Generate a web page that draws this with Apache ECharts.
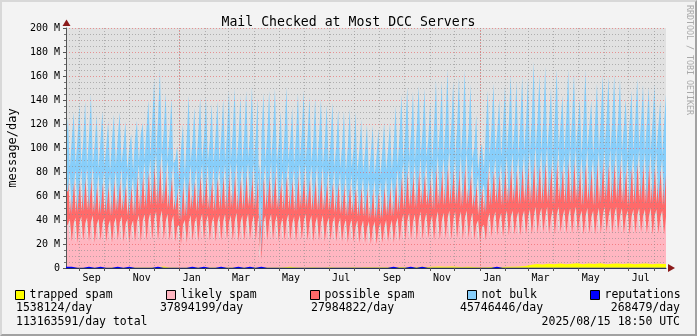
<!DOCTYPE html>
<html><head><meta charset="utf-8">
<script src="https://cdn.jsdelivr.net/npm/echarts@6/dist/echarts.min.js"></script>
<style>
html,body{margin:0;padding:0;background:#f3f3f3;}
#wrap{position:relative;width:697px;height:336px;overflow:hidden;}
#c{width:697px;height:336px;}
#frame{position:absolute;left:0;top:0;width:697px;height:336px;box-sizing:border-box;border-top:2px solid #d8d8d8;border-left:2px solid #d8d8d8;border-right:2px solid #a2a2a2;border-bottom:2px solid #a2a2a2;pointer-events:none;}
</style></head>
<body><div id="wrap"><div id="c"></div><div id="frame"></div></div>
<script>
// ---- time frame (2 years ending 2025/08/15 18:50 UTC), x axis in days ----
const startMs = Date.UTC(2023, 7, 15, 18, 50);
const DAY = 86400000;
const spanDays = 731;
const weekDays = 7;

// ---- series names & legend texts ----
const seriesNames = ['trapped spam', 'likely spam', 'possible spam', 'not bulk', 'reputations'];
const legendValues = ['1538124/day', '37894199/day', '27984822/day', '45746446/day', '268479/day'];
const totalText = '113163591/day total';
const stampText = '2025/08/15 18:50 UTC';
const titleText = 'Mail Checked at Most DCC Servers';
const yAxisName = 'message/day';
const creditText = 'RRDTOOL / TOBI OETIKER';

// ---- tick labels ----
const xTickLabels = ['Sep', 'Nov', 'Jan', 'Mar', 'May', 'Jul', 'Sep', 'Nov', 'Jan', 'Mar', 'May', 'Jul'];
const yTickUnit = ' M';

// ---- values, millions of messages per day (3 readings per week: mid, peak, low) ----
const likelySpam = [
36,41,22, 37,42,21, 38,43,23, 37,42,22,
38,44,21, 36,41,23, 37,42,22, 35,40,21,
37,42,23, 38,43,22, 36,41,21, 35,40,22,
38,44,22, 39,45,23, 40,46,24, 41,47,23,
41,48,24, 39,45,23, 38,44,22, 34,36,20,
36,40,21, 38,44,23, 37,43,22, 39,45,24,
38,44,23, 37,43,22, 38,44,23, 39,45,24,
38,44,23, 39,46,22, 38,44,23, 39,45,24,
38,44,23, 39,45,7, 38,44,23, 39,45,24,
38,44,22, 36,42,23, 39,45,23, 37,43,22,
38,44,24, 39,45,23, 38,44,22, 37,43,23,
38,44,22, 36,42,23, 37,43,22, 36,42,22,
35,41,21, 35,41,22, 34,40,21, 34,40,21,
33,39,20, 33,39,20, 32,38,21, 34,40,22,
34,40,21, 36,42,22, 38,45,23, 39,46,24,
38,45,23, 40,47,24, 39,46,25, 37,44,23,
40,47,24, 39,46,25, 41,48,24, 40,47,25,
40,47,24, 41,48,25, 39,46,24, 36,40,22,
34,36,23, 40,46,26, 41,47,27, 40,46,26,
41,48,27, 42,48,28, 41,47,27, 42,48,28,
42,49,28, 43,51,29, 44,50,30, 43,51,29,
42,49,28, 44,51,30, 42,49,29, 43,50,29,
44,51,30, 42,48,28, 43,50,29, 42,48,28,
43,50,29, 44,51,30, 43,50,29, 44,51,30,
43,50,29, 42,48,28, 43,49,29, 44,50,30,
43,49,29, 42,50,28, 43,49,29, 42,48,28,
43,49];
const possibleSpam = [
28,39,23, 30,40,25, 29,41,24, 31,42,26,
30,41,25, 28,38,22, 29,40,24, 28,39,23,
30,39,24, 29,40,25, 28,39,23, 28,37,22,
31,43,26, 32,44,27, 34,46,28, 36,50,29,
37,51,29, 33,46,27, 32,44,26, 26,34,19,
28,38,22, 31,42,26, 30,41,25, 32,42,27,
31,43,26, 30,42,25, 32,41,26, 31,42,25,
32,44,27, 33,43,26, 31,42,26, 32,43,27,
31,44,26, 31,42,6, 32,43,26, 31,44,25,
33,45,27, 30,40,25, 32,44,26, 30,41,25,
31,43,26, 32,42,27, 31,42,26, 30,43,25,
31,41,26, 30,40,25, 29,39,24, 29,38,23,
28,38,22, 29,37,23, 28,37,22, 28,36,22,
28,35,21, 27,35,21, 27,34,20, 28,36,22,
28,36,22, 30,40,24, 32,45,26, 33,46,27,
32,45,27, 34,46,28, 33,45,27, 31,43,26,
34,48,28, 34,47,27, 35,52,29, 34,47,28,
33,48,27, 35,50,28, 33,46,26, 29,38,22,
30,34,23, 33,44,26, 34,45,27, 33,43,26,
35,46,27, 35,48,27, 34,47,26, 35,48,27,
36,49,26, 37,51,25, 36,49,24, 37,51,26,
35,47,25, 36,50,26, 35,46,25, 37,51,25,
36,49,26, 34,46,24, 37,50,26, 34,45,24,
36,48,25, 36,49,26, 37,50,25, 36,49,26,
36,49,25, 34,45,24, 35,47,25, 36,49,26,
35,48,25, 36,47,26, 35,48,25, 34,44,24,
35,46];
const notBulk = [
38,45,38, 40,48,40, 41,53,39, 39,55,37,
42,60,40, 40,49,38, 41,49,39, 38,44,37,
40,47,39, 41,47,40, 39,42,38, 37,35,37,
39,36,39, 40,32,40, 42,48,41, 45,61,41,
46,66,42, 42,55,40, 41,54,39, 30,32,33,
36,42,35, 40,58,39, 39,50,40, 41,55,38,
40,56,39, 39,52,40, 40,54,39, 41,54,40,
42,60,39, 42,61,40, 40,58,39, 41,60,40,
42,63,39, 40,55,10, 41,59,39, 42,59,40,
42,61,39, 38,49,38, 42,62,40, 39,50,39,
41,59,40, 41,61,39, 40,57,40, 39,56,39,
40,56,38, 39,54,39, 39,56,38, 38,52,38,
38,52,37, 37,55,38, 37,53,37, 36,48,37,
36,46,36, 35,45,37, 35,44,36, 36,46,37,
37,45,38, 39,53,39, 41,55,40, 42,59,40,
42,57,39, 43,59,41, 42,59,40, 40,51,39,
43,62,41, 43,63,40, 44,66,41, 43,62,40,
43,65,41, 44,67,41, 42,61,40, 36,50,37,
33,34,35, 42,58,41, 43,62,42, 42,52,41,
43,58,42, 44,66,42, 43,62,41, 44,64,42,
44,60,42, 45,70,44, 44,62,43, 45,66,43,
43,55,42, 45,65,43, 43,49,42, 45,65,44,
44,62,43, 42,48,42, 45,65,44, 42,47,42,
44,56,43, 45,61,44, 44,60,43, 45,61,44,
44,59,43, 42,48,42, 43,52,43, 44,59,44,
44,56,43, 43,54,43, 44,56,43, 42,48,42,
43,50];
// weekly readings
const trappedSpam = [
0.2,0.2,0.3,0.3,0.2,0.3,0.3,0.4,0.3,0.3,0.4,0.4,
0.4,0.5,0.4,0.6,1.2,0.5,0.4,0.3,0.4,0.5,0.4,0.4,
0.4,0.5,0.4,0.4,0.5,0.4,0.5,0.5,0.4,0.5,0.4,0.4,
0.5,0.6,1.0,0.6,0.5,0.5,0.6,0.5,0.5,0.6,0.5,0.5,
0.5,0.6,0.5,0.6,0.6,0.7,0.6,0.7,0.6,0.8,0.7,0.8,
0.8,1.0,0.9,1.1,1.2,1.0,1.3,1.1,0.9,1.0,0.9,0.7,
0.7,0.8,0.9,0.8,1.0,1.1,1.3,1.6,2.8,3.4,3.0,3.6,
3.1,3.8,3.2,3.5,4.0,3.1,3.7,3.3,3.9,3.2,3.6,3.8,
3.3,3.7,3.1,3.5,3.8,3.2,3.6,3.3,3.5,3.4];
const reputations = [
1.0,0.15,0.15,1.0,0.15,1.0,0.15,0.15,1.0,0.15,1.0,0.15,
0.15,0.15,0.15,1.0,0.15,0.15,0.15,0.15,0.15,1.0,0.15,1.0,
0.15,0.15,1.0,0.15,0.15,1.0,0.15,1.0,0.15,1.0,0.15,0.15,
0.15,0.15,0.15,0.15,0.15,0.15,0.15,0.15,0.15,0.15,0.15,0.15,
0.15,0.15,0.15,0.15,0.15,0.15,0.15,0.15,1.0,0.15,0.15,1.0,
0.15,1.0,0.15,0.15,0.15,0.15,0.15,0.15,0.15,0.15,0.15,0.15,
0.15,0.15,1.0,0.15,0.15,0.15,0.15,0.15,0.15,0.15,0.15,0.15,
0.15,0.15,0.15,0.15,0.15,0.15,0.15,0.15,0.15,0.15,0.15,0.15,
0.15,0.15,0.15,0.15,0.15,0.15,0.15,0.15,0.15,0.15];

// ---- styles ----
const FONT = '"DejaVu Sans Mono", monospace';
const colors = { trapped: '#ffff00', likely: '#ffb6c1', possible: '#ff6a6a', notBulk: '#87cefa', rep: '#0000ff' };
const legendLeft = [15, 166, 310, 467, 590];

// ---- time helpers ----
const toDay = ms => (ms - startMs) / DAY;
const monthStarts = [];
for (let k = 0; k < 24; k++) monthStarts.push(toDay(Date.UTC(2023, 8 + k, 1)));
const labelPos = xTickLabels.map((t, k) => toDay(Date.UTC(2023, 8 + 2 * k, 1)) + 15);
const labelMap = new Map(labelPos.map((v, k) => [v.toFixed(4), xTickLabels[k]]));
const yearStarts = [toDay(Date.UTC(2024, 0, 1)), toDay(Date.UTC(2025, 0, 1))];

// reading slots (categories) for the 3-per-week series
const readingSlots = likelySpam.map((v, i) => String(i));

function stackArea(name, arr, color) {
  return {
    name, type: 'line', xAxisIndex: 0, stack: 'mail', step: 'end', symbol: 'none', showSymbol: false,
    data: arr, itemStyle: { color }, lineStyle: { width: 0, color },
    areaStyle: { color, opacity: 1 }, silent: true, z: 2
  };
}
function weeklyArea(name, arr, color, z, extra) {
  return Object.assign({
    name, type: 'line', xAxisIndex: 1, step: 'end', symbol: 'none', showSymbol: false,
    data: arr.map((v, i) => [i * weekDays, v]), itemStyle: { color }, lineStyle: { width: 0, color },
    areaStyle: { color, opacity: 1 }, silent: true, z
  }, extra || {});
}

const chart = echarts.init(document.getElementById('c'), null, { renderer: 'canvas' });
const legendColorList = [colors.trapped, colors.likely, colors.possible, colors.notBulk, colors.rep];

const option = {
  animation: false,
  backgroundColor: '#f3f3f3',
  title: { text: titleText, left: 'center', top: 11,
    textStyle: { fontFamily: FONT, fontSize: 13.2, fontWeight: 'normal', color: '#000' } },
  grid: { left: 66, top: 28, width: 600, height: 240, show: true, backgroundColor: '#e1e1e1', borderWidth: 0, containLabel: false, outerBoundsMode: 'none' },
  legend: seriesNames.map((n, i) => ({
    data: [n], left: legendLeft[i], top: 289, padding: 0, itemGap: 0, itemWidth: 9, itemHeight: 9,
    icon: 'rect', selectedMode: false,
    itemStyle: { color: legendColorList[i], borderColor: '#000', borderWidth: 1 },
    textStyle: { fontFamily: FONT, fontSize: 11.5, color: '#000' }
  })),
  xAxis: [
    { type: 'category', data: readingSlots, boundaryGap: false, show: false },
    {
      type: 'value', min: 0, max: spanDays, z: 3, position: 'bottom',
      axisLine: { show: true, onZero: false, lineStyle: { color: '#28305a', width: 1 } },
      axisTick: { show: true, length: 3, customValues: monthStarts, lineStyle: { color: '#555' } },
      axisLabel: { customValues: labelPos, formatter: v => labelMap.get(Number(v).toFixed(4)) || '',
        fontFamily: FONT, fontSize: 10, color: '#000', margin: 5 },
      splitLine: { show: true, lineStyle: { color: 'rgba(140,140,140,0.6)', type: [1, 2], width: 1 } }
    }
  ],
  yAxis: {
    type: 'value', min: 0, max: 200, interval: 20, z: 3,
    name: yAxisName, nameLocation: 'middle', nameGap: 47, nameRotate: 90,
    nameTextStyle: { fontFamily: FONT, fontSize: 12, color: '#000' },
    axisLine: { show: true, lineStyle: { color: '#555', width: 1 } },
    axisTick: { show: true, length: 3, lineStyle: { color: '#555' } },
    minorTick: { show: true, splitNumber: 4, length: 2, lineStyle: { color: '#777' } },
    axisLabel: { fontFamily: FONT, fontSize: 10, color: '#000', margin: 6,
      formatter: v => (v === 0 ? '0' : v + yTickUnit) },
    splitLine: { show: true, lineStyle: { color: 'rgba(235,80,80,0.55)', type: [1, 2], width: 1 } },
    minorSplitLine: { show: true, lineStyle: { color: 'rgba(140,140,140,0.6)', type: [1, 2], width: 1 } }
  },
  series: [
    stackArea(seriesNames[1], likelySpam, colors.likely),
    stackArea(seriesNames[2], possibleSpam, colors.possible),
    stackArea(seriesNames[3], notBulk, colors.notBulk),
    weeklyArea(seriesNames[0], trappedSpam, colors.trapped, 3, {
      markLine: { silent: true, symbol: ['none', 'none'], label: { show: false }, animation: false,
        lineStyle: { color: 'rgba(235,80,80,0.6)', type: [1, 2], width: 1 },
        data: yearStarts.map(d => ({ xAxis: d })) }
    }),
    weeklyArea(seriesNames[4], reputations, colors.rep, 4)
  ],
  graphic: [
    { type: 'polygon', silent: true, z: 10, shape: { points: [[62.5, 26], [70.5, 26], [66.5, 19.5]] }, style: { fill: '#8b1a1a' } },
    { type: 'polygon', silent: true, z: 10, shape: { points: [[668, 264], [668, 272], [675, 268]] }, style: { fill: '#8b1a1a' } },
    { type: 'text', silent: true, x: 689, y: 5, rotation: -Math.PI / 2,
      style: { text: creditText, font: '8.3px ' + FONT, fill: '#a9a9a9', align: 'left', verticalAlign: 'middle', textAlign: 'left', textVerticalAlign: 'middle' } },
    { type: 'text', silent: true, x: 16, y: 308, style: { text: legendValues[0], font: '11.5px ' + FONT, fill: '#000', align: 'left', verticalAlign: 'middle', textAlign: 'left', textVerticalAlign: 'middle' } },
    { type: 'text', silent: true, x: 160, y: 308, style: { text: legendValues[1], font: '11.5px ' + FONT, fill: '#000', align: 'left', verticalAlign: 'middle', textAlign: 'left', textVerticalAlign: 'middle' } },
    { type: 'text', silent: true, x: 311, y: 308, style: { text: legendValues[2], font: '11.5px ' + FONT, fill: '#000', align: 'left', verticalAlign: 'middle', textAlign: 'left', textVerticalAlign: 'middle' } },
    { type: 'text', silent: true, x: 460, y: 308, style: { text: legendValues[3], font: '11.5px ' + FONT, fill: '#000', align: 'left', verticalAlign: 'middle', textAlign: 'left', textVerticalAlign: 'middle' } },
    { type: 'text', silent: true, x: 680, y: 308, style: { text: legendValues[4], font: '11.5px ' + FONT, fill: '#000', align: 'right', verticalAlign: 'middle', textAlign: 'right', textVerticalAlign: 'middle' } },
    { type: 'text', silent: true, x: 16, y: 322, style: { text: totalText, font: '11.5px ' + FONT, fill: '#000', align: 'left', verticalAlign: 'middle', textAlign: 'left', textVerticalAlign: 'middle' } },
    { type: 'text', silent: true, x: 680, y: 322, style: { text: stampText, font: '11.5px ' + FONT, fill: '#000', align: 'right', verticalAlign: 'middle', textAlign: 'right', textVerticalAlign: 'middle' } }
  ]
};
chart.setOption(option);
</script>
</body></html>
